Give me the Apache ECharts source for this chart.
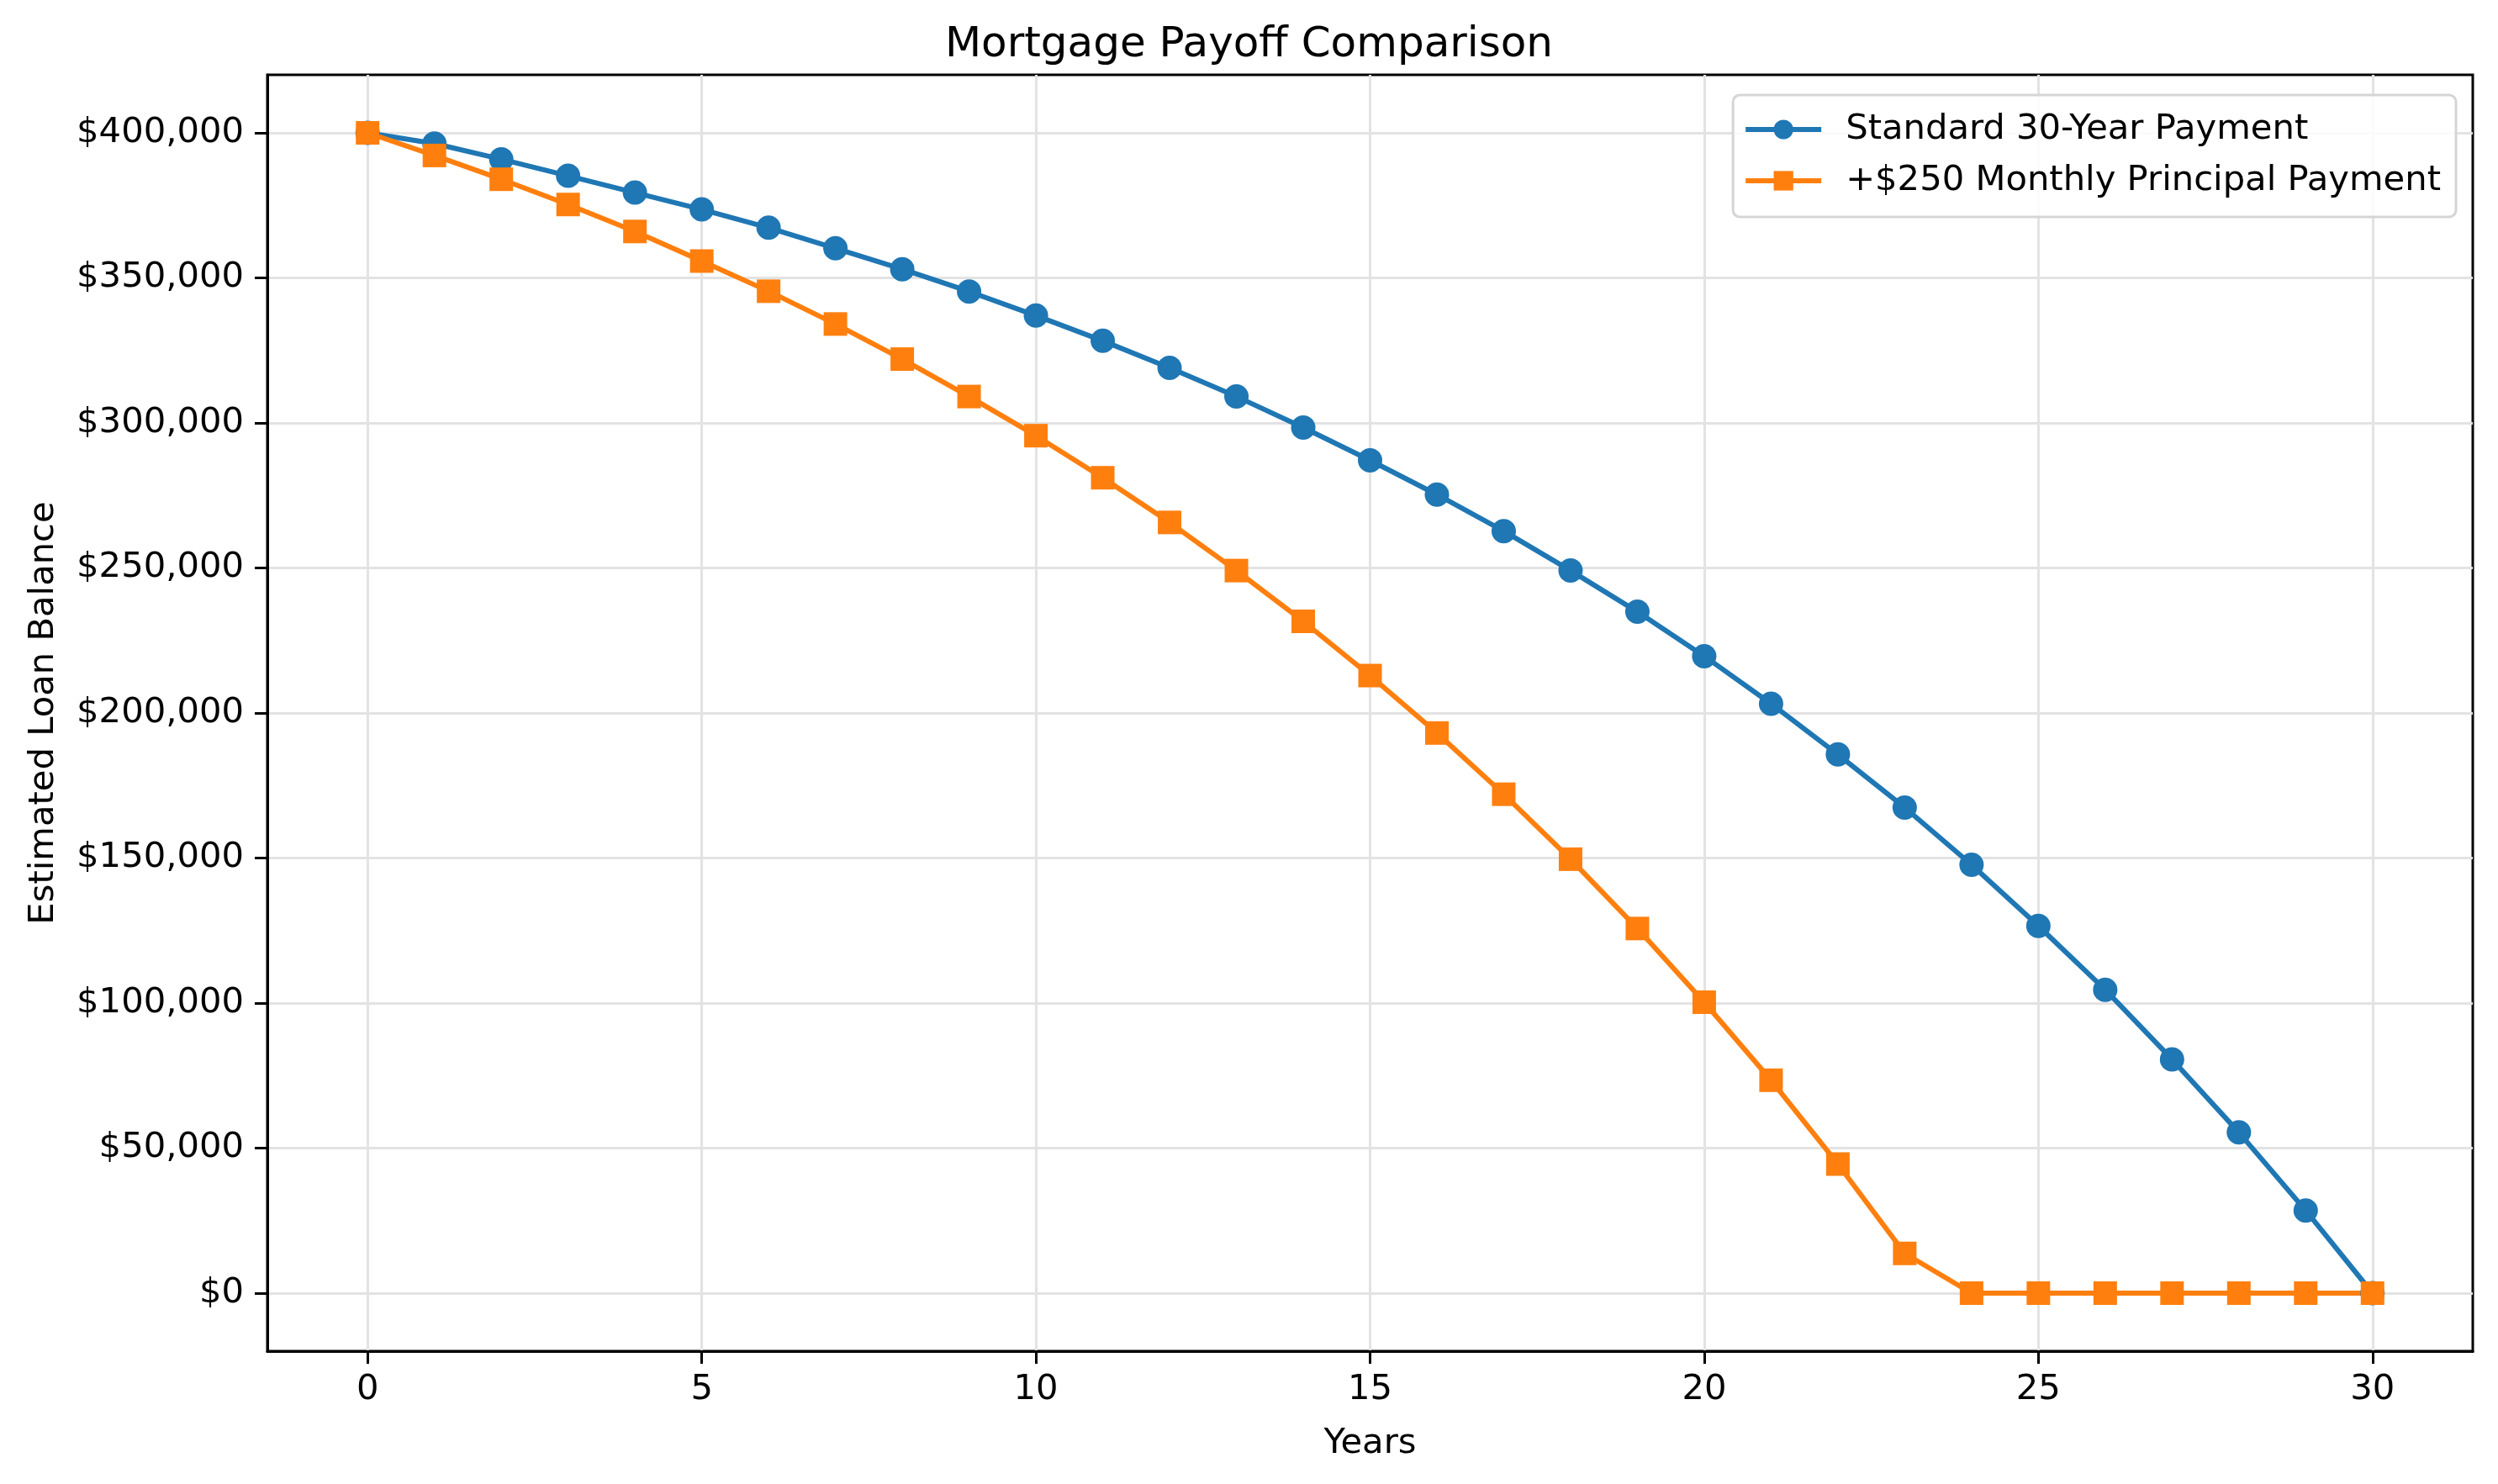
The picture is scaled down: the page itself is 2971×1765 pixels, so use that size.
<!DOCTYPE html>
<html><head><meta charset="utf-8">
<script src="https://cdn.jsdelivr.net/npm/echarts@6/dist/echarts.min.js"></script>
<style>html,body{margin:0;padding:0;background:#fff}#c{width:2971px;height:1765px}</style>
</head><body><div id="c"></div>
<script>
const years = [0,1,2,3,4,5,6,7,8,9,10,11,12,13,14,15,16,17,18,19,20,21,22,23,24,25,26,27,28,29,30];
const standardBalance = [400000,396300,390900,385200,379400,373600,367300,360200,353000,345300,337000,328300,319000,309100,298400,287100,275300,262700,249100,234900,219600,203200,185700,167400,147700,126600,104600,80600,55400,28500,0];
const extraBalance = [400000,392200,384000,375300,366000,355800,345400,334100,322000,309100,295600,281100,265700,249100,231600,212900,193100,172000,149600,125700,100300,73400,44500,13700,0,0,0,0,0,0,0];
const xTicks = [0,5,10,15,20,25,30];
const yTicks = [0,50000,100000,150000,200000,250000,300000,350000,400000];
const seriesNames = ['Standard 30-Year Payment','+$250 Monthly Principal Payment'];
const titleText = 'Mortgage Payoff Comparison';
const xName = 'Years';
const yName = 'Estimated Loan Balance';

const FONT = '"DejaVu Sans", sans-serif';
const chart = echarts.init(document.getElementById('c'), null, {renderer:'canvas'});
const gridLine = {show:true, lineStyle:{color:'#e3e3e3', width:3}};
chart.setOption({
  animation:false,
  backgroundColor:'#fff',
  textStyle:{fontFamily:FONT},
  title:{text:titleText, left:'center', top:29, padding:0,
    textStyle:{fontFamily:FONT, fontSize:50, fontWeight:'normal', color:'#000'}},
  grid:{left:318, right:30, top:89, bottom:158, show:true, borderColor:'#000', borderWidth:3, containLabel:false},
  legend:{
    orient:'vertical', right:50, top:113,
    padding:[20,18,22,12],
    itemWidth:90, itemHeight:29, itemGap:19,
    backgroundColor:'rgba(255,255,255,0.85)',
    borderColor:'#d5d5d5', borderWidth:3, borderRadius:8,
    lineStyle:{width:6},
    textStyle:{fontFamily:FONT, fontSize:41.7, color:'#000', padding:[0,0,0,24]},
    data:seriesNames
  },
  xAxis:{
    type:'value', min:-1.5, max:31.5,
    name:xName, nameLocation:'middle', nameGap:89,
    nameTextStyle:{fontFamily:FONT, fontSize:41.7, color:'#000'},
    axisLine:{show:true, onZero:false, lineStyle:{color:'#000', width:3}},
    axisTick:{show:true, length:15, lineStyle:{color:'#000', width:3}, customValues:xTicks},
    axisLabel:{fontFamily:FONT, fontSize:41.7, color:'#000', margin:25, customValues:xTicks},
    splitLine:gridLine
  },
  yAxis:{
    type:'value', min:-20000, max:420000,
    name:yName, nameLocation:'middle', nameGap:245,
    nameTextStyle:{fontFamily:FONT, fontSize:41.7, color:'#000'},
    axisLine:{show:true, onZero:false, lineStyle:{color:'#000', width:3}},
    axisTick:{show:true, length:15, lineStyle:{color:'#000', width:3}, customValues:yTicks},
    axisLabel:{fontFamily:FONT, fontSize:41.7, color:'#000', margin:28, customValues:yTicks,
      formatter:v=>'$'+Math.round(v).toLocaleString('en-US')},
    splitLine:gridLine
  },
  series:[
    {name:seriesNames[0], type:'line', data:years.map((y,i)=>[y,standardBalance[i]]),
     symbol:'circle', symbolSize:29, showAllSymbol:true,
     itemStyle:{color:'#1f77b4'}, lineStyle:{color:'#1f77b4', width:6}},
    {name:seriesNames[1], type:'line', data:years.map((y,i)=>[y,extraBalance[i]]),
     symbol:'rect', symbolSize:28, showAllSymbol:true,
     itemStyle:{color:'#ff7f0e'}, lineStyle:{color:'#ff7f0e', width:6}}
  ]
});
</script>
</body></html>
